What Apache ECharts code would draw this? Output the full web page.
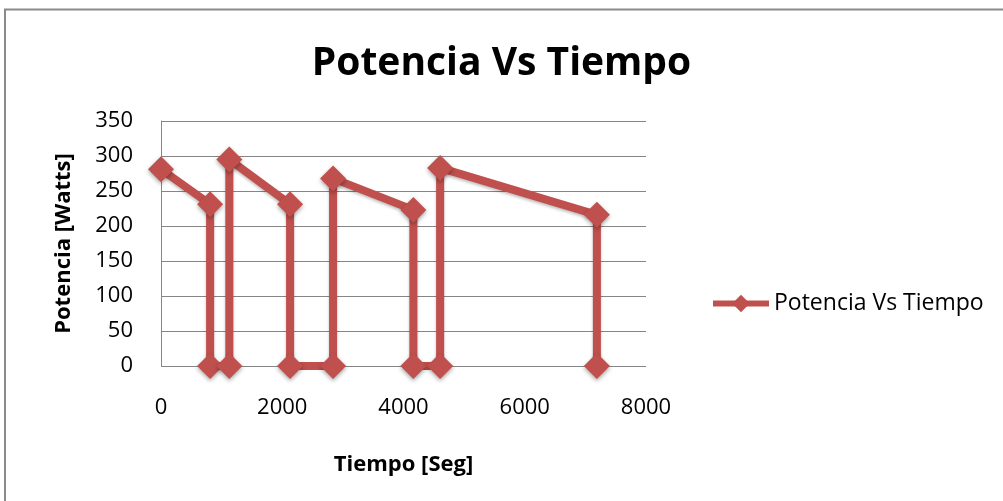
<!DOCTYPE html>
<html>
<head>
<meta charset="utf-8">
<script src="https://cdn.jsdelivr.net/npm/echarts@6/dist/echarts.min.js"></script>
<style>
  html, body { margin: 0; padding: 0; background: #fff; }
  #chart { width: 1003px; height: 501px; }
</style>
</head>
<body>
<div id="chart"></div>
<script>
// Time (seconds) and power (watts) readings, in recorded order
const tiempo   = [0, 810, 810, 1127, 1127, 2129, 2129, 2838, 2838, 4163, 4163, 4604, 4604, 7190, 7190];
const potencia = [281, 231, 0, 0, 295, 231, 0, 0, 268, 223, 0, 0, 283, 216, 0];

const xTicks = [0, 2000, 4000, 6000, 8000];
const yTicks = [0, 50, 100, 150, 200, 250, 300, 350];

const serieNombre = 'Potencia Vs Tiempo';
const tituloTexto = 'Potencia Vs Tiempo';
const ejeX = 'Tiempo [Seg]';
const ejeY = 'Potencia [Watts]';

const FONT = '"Open Sans", sans-serif';
const RED = '#C0504D';

const puntos = tiempo.map((t, i) => [t, potencia[i]]);

const chart = echarts.init(document.getElementById('chart'), null, { renderer: 'canvas' });

chart.setOption({
  animation: false,
  backgroundColor: '#ffffff',
  graphic: [{
    type: 'rect',
    silent: true,
    shape: { x: 5, y: 9.5, width: 1020, height: 520 },
    style: { fill: 'none', stroke: '#8a8a8a', lineWidth: 2 }
  }],
  title: {
    text: tituloTexto,
    left: 'center',
    top: 39,
    textStyle: { fontFamily: FONT, fontSize: 39, fontWeight: 'bold', color: '#000' }
  },
  legend: {
    data: [serieNombre],
    left: 705,
    top: 287,
    itemWidth: 56,
    itemHeight: 22,
    lineStyle: { width: 6, color: RED },
    textStyle: { fontFamily: FONT, fontSize: 23, color: '#000' }
  },
  grid: { left: 161, right: 357, top: 121, bottom: 135, containLabel: false },
  xAxis: {
    type: 'value',
    min: xTicks[0],
    max: xTicks[xTicks.length - 1],
    interval: xTicks[1] - xTicks[0],
    name: ejeX,
    nameLocation: 'middle',
    nameGap: 88,
    nameTextStyle: { fontFamily: FONT, fontSize: 22, fontWeight: 'bold', color: '#000' },
    axisLine: { show: false },
    axisTick: { show: false },
    splitLine: { show: false },
    axisLabel: { fontFamily: FONT, fontSize: 22, color: '#000', margin: 31, formatter: v => String(v) }
  },
  yAxis: {
    type: 'value',
    min: yTicks[0],
    max: yTicks[yTicks.length - 1],
    interval: yTicks[1] - yTicks[0],
    name: ejeY,
    nameLocation: 'middle',
    nameRotate: 90,
    nameGap: 86,
    nameTextStyle: { fontFamily: FONT, fontSize: 22, fontWeight: 'bold', color: '#000' },
    axisLine: { show: true, lineStyle: { color: '#868686', width: 1 } },
    axisTick: { show: false },
    splitLine: { show: true, lineStyle: { color: '#868686', width: 1 } },
    axisLabel: { fontFamily: FONT, fontSize: 22, color: '#000', margin: 28, formatter: v => String(v) }
  },
  series: [{
    name: serieNombre,
    type: 'line',
    data: puntos,
    symbol: 'diamond',
    symbolSize: 26,
    itemStyle: {
      color: RED,
      shadowColor: 'rgba(0,0,0,0.35)',
      shadowBlur: 4,
      shadowOffsetY: 2
    },
    lineStyle: {
      color: RED,
      width: 8,
      shadowColor: 'rgba(0,0,0,0.25)',
      shadowBlur: 3,
      shadowOffsetY: 2
    },
    z: 3
  }]
});
</script>
</body>
</html>
